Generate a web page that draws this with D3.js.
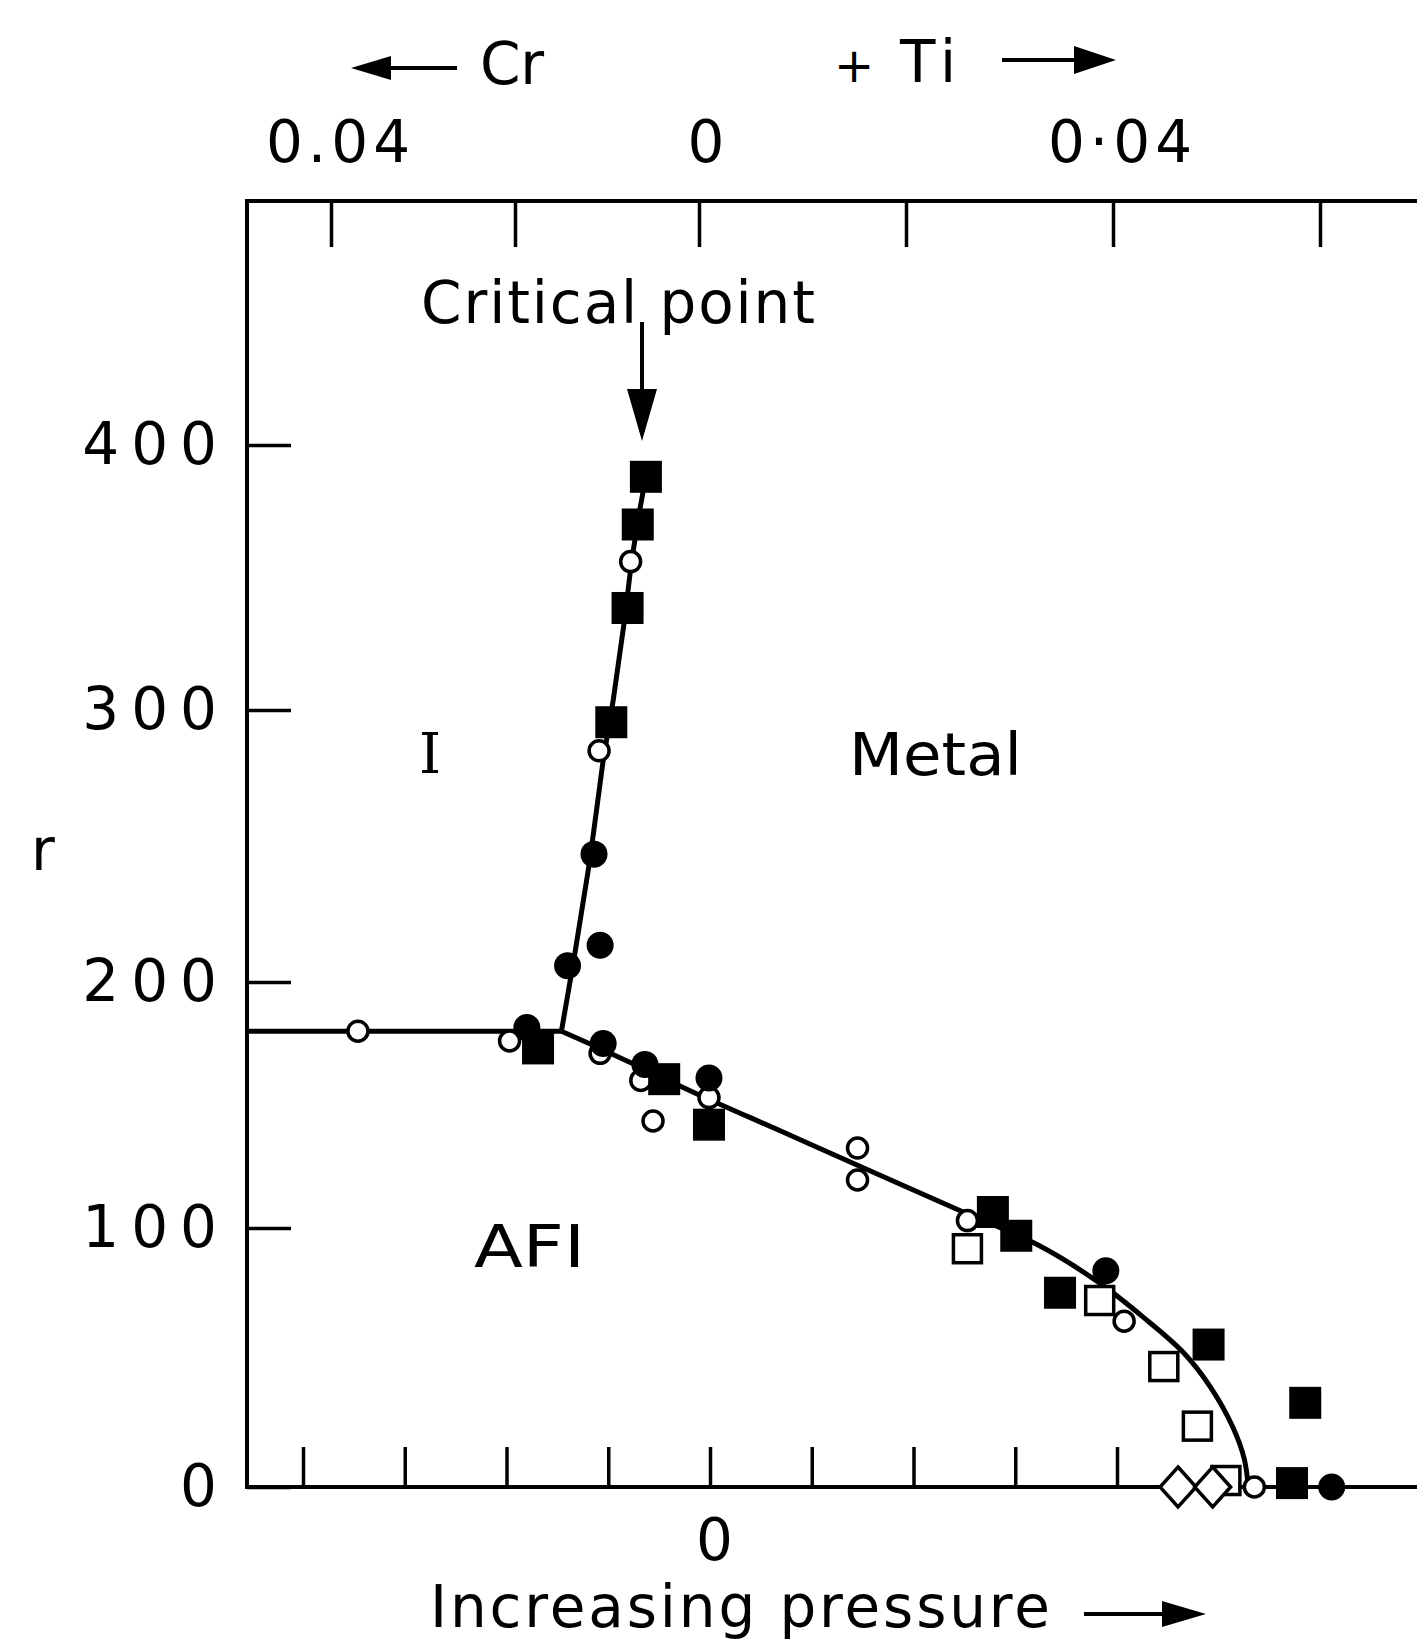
<!DOCTYPE html>
<html>
<head>
<meta charset="utf-8">
<script src="https://cdn.jsdelivr.net/npm/d3@7"></script>
<style>
body { margin: 0; background: #fff; }
svg text { font-family: "DejaVu Sans", sans-serif; fill: #000; }
</style>
</head>
<body>
<div id="chart"></div>
<script>
// bottom axis: pressure steps, left axis: r, top axis: composition (Cr <- 0 -> Ti)
var pressureTicks = [-4, -3, -2, -1, 0, 1, 2, 3, 4];
var rTicks = [0, 100, 200, 300, 400];
var compTicks = [-0.04, -0.02, 0, 0.02, 0.04, 0.06];
var compTickLabels = ["0.04", "", "0", "", "0·04", ""];

// phase boundaries [pressure, r]
var boundaryFlat = [[-4.55, 180], [-1.46, 180]];
var boundaryLow = [[-1.46, 180], [-1.08, 173], [-0.59, 163.5], [-0.10, 154], [0.69, 139.5],
    [1.45, 125.5], [2.46, 107], [3.22, 93.5], [3.82, 79], [4.26, 65.5], [4.65, 52],
    [4.92, 38.5], [5.14, 23], [5.25, 11], [5.29, 0]];
var boundaryUp = [[-1.46, 180], [-1.33, 210], [-1.18, 245], [-1.05, 281.5], [-0.95, 304],
    [-0.84, 334], [-0.77, 356.5], [-0.69, 375.5], [-0.61, 392.5]];

// measured points [pressure, r]
var filledSquares = [[-0.63, 388], [-0.71, 370], [-0.81, 338.5], [-0.97, 295.5], [-1.69, 173],
    [-0.45, 160.5], [-0.01, 142], [2.78, 106.5], [3.01, 97], [3.44, 75], [4.90, 55],
    [5.85, 32.5], [5.72, 1.5]];
var filledCircles = [[-1.14, 247], [-1.08, 213.5], [-1.40, 206], [-1.80, 181.5], [-1.05, 175],
    [-0.64, 166.5], [-0.01, 161], [3.89, 83.5], [6.11, 0]];
var openCircles = [[-0.78, 356], [-1.09, 285], [-3.46, 180], [-1.97, 176], [-1.08, 171],
    [-0.68, 160], [-0.56, 143.5], [-0.01, 153], [1.45, 132.5], [1.45, 119.5], [2.53, 103],
    [4.07, 64], [5.35, 0]];
var openSquares = [[2.53, 92], [3.83, 72], [4.46, 46.5], [4.79, 23.5], [5.07, 2.5]];
var openDiamonds = [[4.60, 0], [4.94, 0]];

function go() {
    var width = 1417, height = 1643;
    var left = 247, top = 201, bottom = 1487;

    var svg = d3.select("#chart").append("svg")
        .attr("width", width)
        .attr("height", height);

    var x = d3.scaleLinear().domain([-4, 4]).range([303, 1117]);
    var xTop = d3.scaleLinear().domain([-0.04, 0, 0.06]).range([331, 699, 1320]);
    var y = d3.scaleLinear().domain(rTicks).range([1487, 1228, 982, 710, 445]);

    // frame
    svg.append("path")
        .attr("d", "M" + width + "," + top + "H" + left + "V" + bottom + "H" + width)
        .attr("fill", "none")
        .attr("stroke", "#000")
        .attr("stroke-width", 4);

    var gTop = svg.append("g")
        .attr("transform", "translate(0," + top + ")")
        .call(d3.axisTop(xTop).tickValues(compTicks).tickSize(-46).tickPadding(39)
            .tickFormat(function (d, i) { return compTickLabels[i]; }));

    var gLeft = svg.append("g")
        .attr("transform", "translate(" + left + ",0)")
        .call(d3.axisLeft(y).tickValues(rTicks).tickSize(-44).tickPadding(18));

    var gBottom = svg.append("g")
        .attr("transform", "translate(0," + bottom + ")")
        .call(d3.axisBottom(x).tickValues(pressureTicks).tickSize(-40).tickPadding(32)
            .tickFormat(function (d) { return d === 0 ? "0" : ""; }));

    [gTop, gLeft, gBottom].forEach(function (g) {
        g.select(".domain").remove();
        g.selectAll(".tick line").attr("stroke", "#000").attr("stroke-width", 3.5);
        g.selectAll(".tick text")
            .attr("font-family", "DejaVu Sans, sans-serif")
            .attr("font-size", 58)
            .attr("fill", "#000");
    });
    gLeft.selectAll(".tick text").attr("letter-spacing", 12);
    gTop.selectAll(".tick text").attr("letter-spacing", 5).attr("dx", 9);
    gBottom.selectAll(".tick text").attr("dx", 4);

    // boundaries
    var line = d3.line()
        .x(function (d) { return x(d[0]); })
        .y(function (d) { return y(d[1]); });

    svg.append("path").datum(boundaryFlat)
        .attr("d", line)
        .attr("fill", "none").attr("stroke", "#000").attr("stroke-width", 5);
    svg.append("path").datum(boundaryUp)
        .attr("d", line)
        .attr("fill", "none").attr("stroke", "#000").attr("stroke-width", 5);
    svg.append("path").datum(boundaryLow)
        .attr("d", line.curve(d3.curveCatmullRom.alpha(0.5)))
        .attr("fill", "none").attr("stroke", "#000").attr("stroke-width", 5);

    // open markers first, filled ones on top
    svg.selectAll(".ocirc").data(openCircles).enter().append("circle")
        .attr("class", "ocirc")
        .attr("cx", function (d) { return x(d[0]); })
        .attr("cy", function (d) { return y(d[1]); })
        .attr("r", 10)
        .attr("fill", "#fff").attr("stroke", "#000").attr("stroke-width", 3.5);

    svg.selectAll(".osq").data(openSquares).enter().append("rect")
        .attr("class", "osq")
        .attr("x", function (d) { return x(d[0]) - 14; })
        .attr("y", function (d) { return y(d[1]) - 14; })
        .attr("width", 28).attr("height", 28)
        .attr("fill", "#fff").attr("stroke", "#000").attr("stroke-width", 3.5);

    svg.selectAll(".odia").data(openDiamonds).enter().append("path")
        .attr("class", "odia")
        .attr("d", function (d) {
            var cx = x(d[0]), cy = y(d[1]);
            return "M" + cx + "," + (cy - 20) + "L" + (cx + 18) + "," + cy +
                "L" + cx + "," + (cy + 20) + "L" + (cx - 18) + "," + cy + "Z";
        })
        .attr("fill", "#fff").attr("stroke", "#000").attr("stroke-width", 3.5);

    svg.selectAll(".fsq").data(filledSquares).enter().append("rect")
        .attr("class", "fsq")
        .attr("x", function (d) { return x(d[0]) - 16; })
        .attr("y", function (d) { return y(d[1]) - 16; })
        .attr("width", 32).attr("height", 32)
        .attr("fill", "#000");

    svg.selectAll(".fcirc").data(filledCircles).enter().append("circle")
        .attr("class", "fcirc")
        .attr("cx", function (d) { return x(d[0]); })
        .attr("cy", function (d) { return y(d[1]); })
        .attr("r", 13.5)
        .attr("fill", "#000");

    // arrows
    function arrow(x1, y1, x2, y2, headLen, headHalf) {
        var a = Math.atan2(y2 - y1, x2 - x1);
        var bx = x2 - headLen * Math.cos(a), by = y2 - headLen * Math.sin(a);
        svg.append("line")
            .attr("x1", x1).attr("y1", y1).attr("x2", bx).attr("y2", by)
            .attr("stroke", "#000").attr("stroke-width", 4);
        var px = -Math.sin(a) * headHalf, py = Math.cos(a) * headHalf;
        svg.append("path")
            .attr("d", "M" + x2 + "," + y2 + "L" + (bx + px) + "," + (by + py) +
                "L" + (bx - px) + "," + (by - py) + "Z")
            .attr("fill", "#000");
    }

    function label(txt, tx, ty, len, opts) {
        var t = svg.append("text")
            .attr("x", tx).attr("y", ty)
            .attr("font-size", (opts && opts.size) || 58)
            .text(txt);
        if (len) t.attr("textLength", len)
            .attr("lengthAdjust", (opts && opts.adjust) || "spacing");
        if (opts && opts.family) t.attr("font-family", opts.family).style("font-family", opts.family);
        return t;
    }

    // top titles
    arrow(457, 68, 351, 68, 40, 12);
    label("Cr", 480, 84, 64);
    label("+", 834, 82, 0, { size: 48 });
    label("Ti", 900, 82, 56);
    arrow(1002, 60, 1116, 60, 42, 14);

    // critical point
    label("Critical point", 421, 323, 394);
    arrow(642, 322, 642, 441, 52, 15);

    // regions
    label("I", 419, 773, 0, { family: "DejaVu Serif, serif", size: 56 });
    label("Metal", 849, 775, 173, { adjust: "spacingAndGlyphs" });
    label("AFI", 474, 1267, 111, { adjust: "spacingAndGlyphs" });

    // axis titles
    label("r", 31, 870, 0, { size: 58 });
    label("Increasing pressure", 430, 1627, 620);
    arrow(1084, 1614, 1206, 1614, 44, 13);
}

document.addEventListener("DOMContentLoaded", function () {
    go();
});
</script>
</body>
</html>
